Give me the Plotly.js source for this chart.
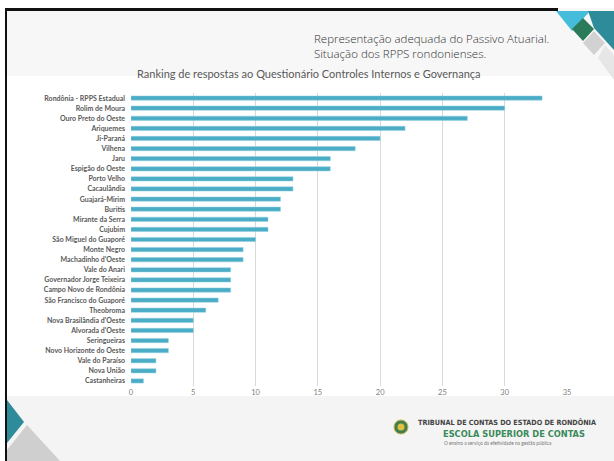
<!DOCTYPE html>
<html><head><meta charset="utf-8">
<script src="https://cdn.plot.ly/plotly-3.0.1.min.js"></script>
<style>html,body{margin:0;padding:0;background:#fff;}#chart{width:614px;height:461px;}</style>
</head><body><div id="chart"></div>
<script>
const categories = ["Rondônia - RPPS Estadual","Rolim de Moura","Ouro Preto do Oeste","Ariquemes","Ji-Paraná","Vilhena","Jaru","Espigão do Oeste","Porto Velho","Cacaulândia","Guajará-Mirim","Buritis","Mirante da Serra","Cujubim","São Miguel do Guaporé","Monte Negro","Machadinho d'Oeste","Vale do Anari","Governador Jorge Teixeira","Campo Novo de Rondônia","São Francisco do Guaporé","Theobroma","Nova Brasilândia d'Oeste","Alvorada d'Oeste","Seringueiras","Novo Horizonte do Oeste","Vale do Paraíso","Nova União","Castanheiras"];
const values = [33,30,27,22,20,18,16,16,13,13,12,12,11,11,10,9,9,8,8,8,7,6,5,5,3,3,2,2,1];
const xTicks = [0,5,10,15,20,25,30,35];

const W=614,H=461,M={l:131,r:47,t:93,b:75};
const pw=W-M.l-M.r, ph=H-M.t-M.b;
const px=x=>(x-M.l)/pw, py=y=>1-(y-M.t)/ph;
function poly(pts,color){
  return {type:'path',xref:'paper',yref:'paper',layer:'below',
    path:'M'+pts.map(p=>px(p[0]).toFixed(4)+','+py(p[1]).toFixed(4)).join(' L')+' Z',
    fillcolor:color,line:{width:0}};
}
function rect(x0,y0,x1,y1,color){
  return {type:'rect',xref:'paper',yref:'paper',layer:'below',x0:px(x0),x1:px(x1),y0:py(y1),y1:py(y0),fillcolor:color,line:{width:0}};
}
const shapes=[
  rect(5,8,614,76,'#f7f7f7'),
  rect(5,396,614,461,'#f4f4f4'),
  rect(5,8,558,11,'#111111'),
  rect(5,8,7,461,'#111111'),
  poly([[556,11],[590,11],[572,31]],'#45bcd9'),
  poly([[588,11],[614,11],[614,50],[594,28]],'#2e8c9a'),
  poly([[583,18],[594,29],[583,41],[572,29]],'#2b7a5a'),
  poly([[594,31],[605,43],[594,55],[583,43]],'#d2d2d2'),
  poly([[605,45],[614,55],[614,80],[598,58]],'#e6e6e6'),
  poly([[7,400],[24,422],[7,443]],'#2e8c9a'),
  poly([[27,425],[60,461],[7,461],[7,450]],'#cfcfcf'),
  {type:'circle',xref:'paper',yref:'paper',x0:px(394),x1:px(408),y0:py(434),y1:py(420),fillcolor:'#3f7f4f',line:{color:'#c9b24a',width:1}},
  {type:'circle',xref:'paper',yref:'paper',x0:px(397.5),x1:px(404.5),y0:py(430.5),y1:py(423.5),fillcolor:'#e0c040',line:{width:0}}
];
const ann=(x,y,text,font,opts={})=>Object.assign({xref:'paper',yref:'paper',x:px(x),y:py(y),text,showarrow:false,
  xanchor:'left',yanchor:'middle',borderpad:0,font},opts);
const narrow='"Liberation Sans Narrow", "DejaVu Sans Condensed", sans-serif';
const annotations=[
  ann(313,46.5,'Representação adequada do Passivo Atuarial.<br>Situação dos RPPS rondonienses.',{family:'"Open Sans", sans-serif',size:11.5,color:'#333',weight:300},{align:'left'}),
  ann(309,74,'Ranking de respostas ao Questionário Controles Internos e Governança',{family:'Lato, sans-serif',size:11,color:'#595959'},{xanchor:'center'}),
  ann(417,422.5,'TRIBUNAL DE CONTAS DO ESTADO DE RONDÔNIA',{family:narrow,size:7.2,color:'#444',weight:700}),
  ann(442,433,'ESCOLA SUPERIOR DE CONTAS',{family:narrow,size:9.2,color:'#3a8a5a',weight:700}),
  ann(443,443,'O ensino a serviço da efetividade na gestão pública',{family:'Lato, sans-serif',size:4.8,color:'#777'})
];

Plotly.newPlot('chart',[{
  type:'bar',orientation:'h',y:categories,x:values,width:0.42,
  marker:{color:'#4bacc6',line:{color:'#8fd0e0',width:0.5}},hoverinfo:'none'
}],{
  width:W,height:H,margin:M,paper_bgcolor:'#ffffff',plot_bgcolor:'rgba(0,0,0,0)',
  showlegend:false,shapes,annotations,
  xaxis:{range:[0,35],tickvals:xTicks,ticktext:xTicks.map(String),showgrid:true,gridcolor:'#d9d9d9',gridwidth:1,
    zeroline:false,showline:false,ticks:'',tickfont:{family:'Lato, sans-serif',size:7.5,color:'#808080'},fixedrange:true},
  yaxis:{autorange:'reversed',type:'category',showgrid:false,zeroline:false,showline:false,ticks:'',ticklabelstandoff:5,
    tickfont:{family:'Lato, sans-serif',size:7,color:'#595959',weight:700},fixedrange:true},
  font:{family:'Lato, sans-serif'}
},{staticPlot:true,displayModeBar:false});
</script></body></html>
